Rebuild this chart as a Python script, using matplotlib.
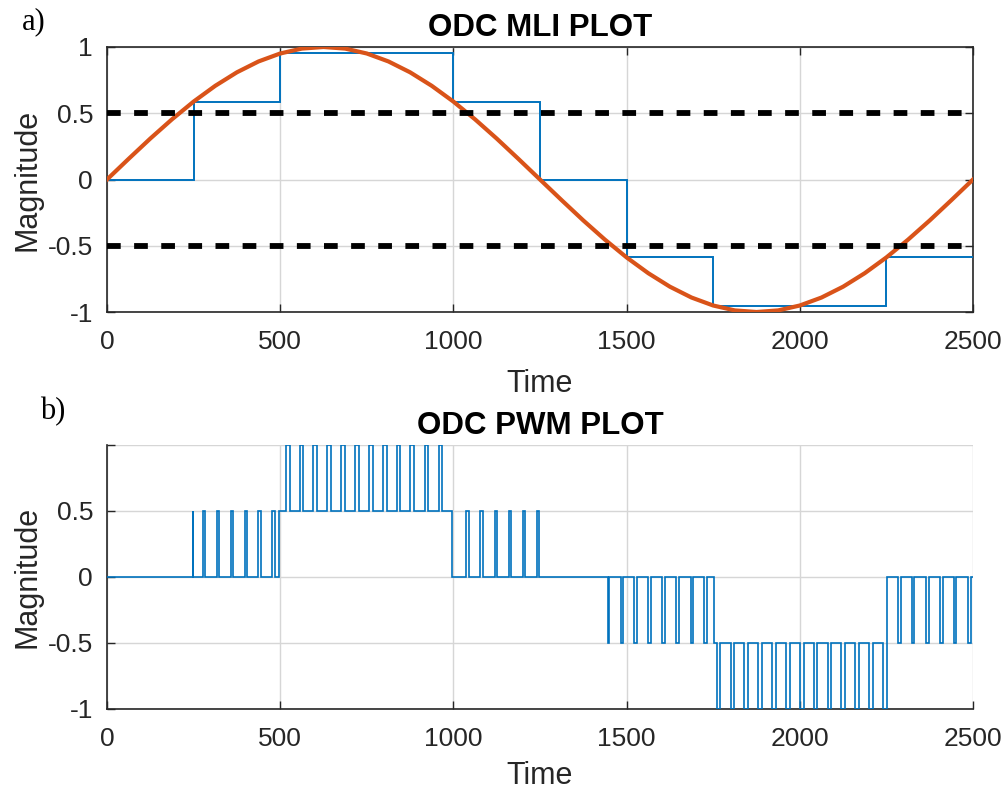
import numpy as np
import matplotlib
matplotlib.use('Agg')
import matplotlib.pyplot as plt

# ---- data ----
# reference sine (sampled every 62.5 time units)
sine_t = np.linspace(0, 2500, 41)
sine_v = [0.000, 0.156, 0.309, 0.454, 0.588, 0.707, 0.809, 0.891, 0.951, 0.988,
          1.000, 0.988, 0.951, 0.891, 0.809, 0.707, 0.588, 0.454, 0.309, 0.156,
          0.000, -0.156, -0.309, -0.454, -0.588, -0.707, -0.809, -0.891, -0.951, -0.988,
          -1.000, -0.988, -0.951, -0.891, -0.809, -0.707, -0.588, -0.454, -0.309, -0.156,
          0.000]

# multilevel staircase
mli_edges = [0, 250, 500, 750, 1000, 1250, 1500, 1750, 2000, 2250, 2500]
mli_levels = [0, 0.588, 0.951, 0.951, 0.588, 0, -0.588, -0.951, -0.951, -0.588]

# level-shift thresholds
thresholds = [0.5, -0.5]

# PWM output: segments with a base level and pulses to a peak level
pwm_seg_edges = [0, 247, 497, 997, 1250, 1447, 1752, 2251, 2500]
pwm_base = [0, 0, 0.5, 0, 0, 0, -0.5, 0]
pwm_peak = [0, 0.5, 1, 0.5, 0, -0.5, -1, -0.5]
pwm_pulses = [
    [],
    [(247, 249), (277, 284), (317, 324), (357, 364), (397, 404), (437, 444), (477, 484)],
    [(516, 527), (556, 567), (596, 607), (636, 647), (676, 687), (716, 727),
     (756, 767), (796, 807), (836, 847), (876, 887), (917, 928), (957, 968)],
    [(1037, 1044), (1078, 1085), (1119, 1126), (1160, 1167), (1201, 1208), (1241, 1248)],
    [],
    [(1447, 1449), (1483, 1490), (1522, 1529), (1562, 1569), (1603, 1610),
     (1644, 1651), (1685, 1692), (1724, 1731)],
    [(1760, 1771), (1800, 1811), (1840, 1851), (1880, 1891), (1920, 1931), (1960, 1971),
     (2000, 2011), (2040, 2051), (2080, 2091), (2120, 2131), (2160, 2171), (2201, 2212),
     (2241, 2251)],
    [(2284, 2291), (2324, 2331), (2365, 2372), (2405, 2412), (2445, 2452), (2487, 2494)],
]

xticks = [0, 500, 1000, 1500, 2000, 2500]
yticks = [-1, -0.5, 0, 0.5, 1]

# build the PWM step arrays
pwm_edges = [pwm_seg_edges[0]]
pwm_vals = []
for i in range(len(pwm_base)):
    cur = pwm_seg_edges[i]
    for s, e in pwm_pulses[i]:
        if s > cur:
            pwm_vals.append(pwm_base[i])
            pwm_edges.append(s)
        pwm_vals.append(pwm_peak[i])
        pwm_edges.append(e)
        cur = e
    if pwm_seg_edges[i + 1] > cur:
        pwm_vals.append(pwm_base[i])
        pwm_edges.append(pwm_seg_edges[i + 1])

blue = '#0072BD'
orange = '#D95319'
dark = '#262626'
plt.rcParams['font.family'] = ['Liberation Sans', 'DejaVu Sans']

fig = plt.figure(figsize=(10.05, 7.91), dpi=100)
ax1 = fig.add_axes([107 / 1005, 1 - 312 / 791, 866 / 1005, 265 / 791])
ax2 = fig.add_axes([107 / 1005, 1 - 709 / 791, 866 / 1005, 264 / 791])


def style(ax, box, xlabelpad):
    ax.set_xlim(0, 2500)
    ax.set_ylim(-1, 1)
    ax.set_xticks(xticks)
    ax.set_yticks(yticks)
    ax.grid(True, color='#d6d6d6', lw=1.0)
    ax.set_axisbelow(True)
    ax.tick_params(direction='in', length=6, width=1.0, colors=dark,
                   labelsize=19, top=box, right=box)
    ax.tick_params(axis='y', pad=10)
    ax.tick_params(axis='x', pad=13)
    for sp in ax.spines.values():
        sp.set_color(dark)
        sp.set_linewidth(1.2)
    if not box:
        ax.spines['top'].set_visible(False)
        ax.spines['right'].set_visible(False)
    ax.set_xlabel('Time', fontsize=22, color=dark, labelpad=xlabelpad)
    ax.set_ylabel('Magnitude', fontsize=22, color=dark, labelpad=4)


# a) MLI plot
style(ax1, True, 11)
ax1.set_yticklabels(['-1', '-0.5', '0', '0.5', '1'])
ax1.stairs(mli_levels, mli_edges, baseline=None, color=blue, lw=1.4, zorder=3)
ax1.plot(sine_t, sine_v, color=orange, lw=3, zorder=4)
for th in thresholds:
    ax1.axhline(th, color='black', lw=4.2, linestyle=(0, (2.35, 2.3)), zorder=5)
ax1.set_title('ODC MLI PLOT', fontsize=22.5, fontweight='bold', pad=8)

# b) PWM plot
style(ax2, False, 7)
ax2.set_yticklabels(['-1', '-0.5', '0', '0.5', ''])
ax2.stairs(pwm_vals, pwm_edges, baseline=None, color=blue, lw=1.2, zorder=3)
ax2.set_title('ODC PWM PLOT', fontsize=22.5, fontweight='bold', pad=8)

fig.text(22 / 1005, 1 - 22 / 791, 'a)', family='Liberation Serif', fontsize=22,
         va='center', ha='left')
fig.text(40 / 1005, 1 - 412 / 791, 'b)', family='Liberation Serif', fontsize=22,
         va='center', ha='left')

fig.savefig('out.png', dpi=100)
